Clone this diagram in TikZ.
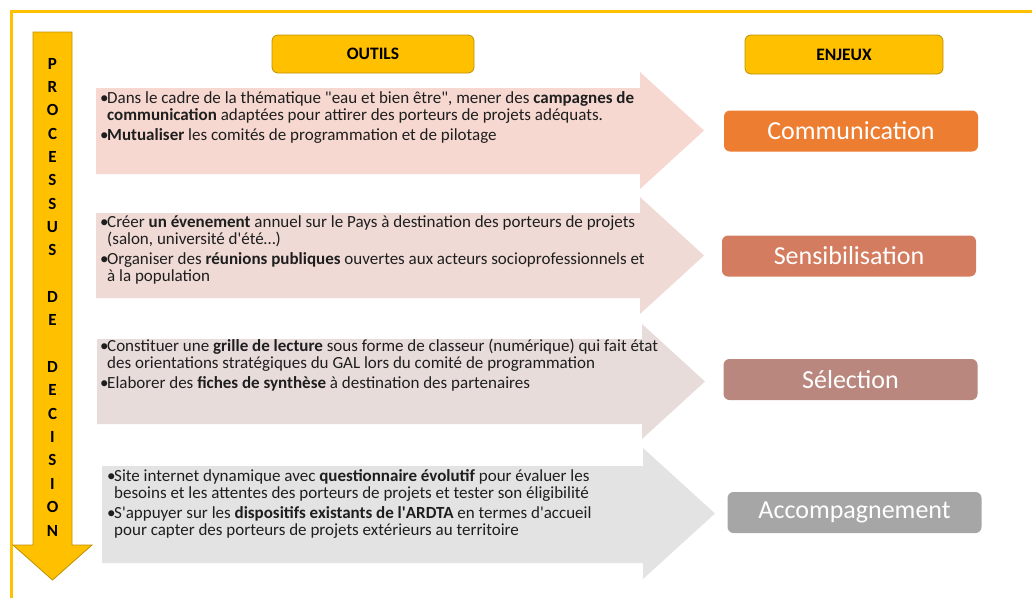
\documentclass[tikz,border=0pt]{standalone}
\usepackage{fontspec}
\setmainfont{Carlito}
\definecolor{gold}{HTML}{FFC000}
\definecolor{golddark}{HTML}{BF9000}
\definecolor{arrA}{HTML}{F6D8D1}
\definecolor{arrB}{HTML}{EFDAD5}
\definecolor{arrC}{HTML}{E8DCDB}
\definecolor{arrD}{HTML}{E3E3E3}
\definecolor{cComm}{HTML}{ED7D31}
\definecolor{cSens}{HTML}{D37C5F}
\definecolor{cSel}{HTML}{BA877F}
\definecolor{cAcc}{HTML}{A6A6A6}
\definecolor{txt}{HTML}{1E1E1E}
\newcommand\itm{\makebox[7pt][l]{•}}
\newcommand\cnt{\hspace*{7pt}}
\newcommand\ap{\textquotesingle}
\tikzset{
  header/.style={draw=golddark, line width=0.8pt, fill=gold, rounded corners=6pt,
    inner sep=0pt, font=\fontsize{17.5}{19}\selectfont\bfseries, text=black},
  enjeu/.style={rounded corners=6pt, inner sep=0pt, text=white,
    font=\fontsize{26}{28}\selectfont, minimum height=41pt, minimum width=254pt},
  outil/.style={anchor=base west, inner sep=0pt, text=txt},
}
\newcommand\outiltext[1]{\parbox[t]{600pt}{\fontsize{17}{17}\selectfont\setlength{\parindent}{0pt}#1}}
\begin{document}
\begin{tikzpicture}[x=1pt,y=-1pt]
\useasboundingbox (0,0) rectangle (1032,598);
% frame
\draw[gold, line width=3pt] (1032,11) -- (11,11) -- (11,598);
% process arrow
\draw[fill=gold, draw=golddark, line width=0.8pt]
  (33,32) -- (72,32) -- (72,545) -- (92,545) -- (52.5,580) -- (13,545) -- (33,545) -- cycle;
\node[anchor=base, inner sep=0pt, font=\fontsize{17}{23.35}\selectfont\bfseries, text=black] (proc) at (52.5,69)
  {\parbox[t]{20pt}{\centering P\\R\\O\\C\\E\\S\\S\\U\\S\\\mbox{}\\D\\E\\\mbox{}\\D\\E\\C\\I\\S\\I\\O\\N}};
% headers
\node[header, minimum width=202pt, minimum height=38pt] (outils) at (373,54) {OUTILS};
\node[header, minimum width=198pt, minimum height=39pt] (enjeux) at (844,54.5) {ENJEUX};
% big arrows
\fill[arrA] (96,88) -- (640,88) -- (640,72) -- (704,130.5) -- (640,189) -- (640,174) -- (96,174) -- cycle;
\fill[arrB] (96,213) -- (640,213) -- (640,197) -- (704,255.5) -- (640,314) -- (640,298) -- (96,298) -- cycle;
\fill[arrC] (97,339) -- (642,339) -- (642,324) -- (705,381.5) -- (642,439) -- (642,424) -- (97,424) -- cycle;
\fill[arrD] (102,466) -- (643,466) -- (643,448) -- (715,513.5) -- (643,579) -- (643,563) -- (102,563) -- cycle;
% texts
\node[outil] (t1) at (100,103) {\outiltext{%
\itm Dans le cadre de la thématique \textquotedbl eau et bien être\textquotedbl, mener des \textbf{campagnes de}\\
\cnt\textbf{communication} adaptées pour attirer des porteurs de projets adéquats.\\[3pt]
\itm\textbf{Mutualiser} les comités de programmation et de pilotage}};
\node[outil] (t2) at (100,227) {\outiltext{%
\itm Créer \textbf{un évenement} annuel sur le Pays à destination des porteurs de projets\\
\cnt(salon, université d\ap été…)\\[3pt]
\itm Organiser des \textbf{réunions publiques} ouvertes aux acteurs socioprofessionnels et\\
\cnt à la population}};
\node[outil] (t3) at (100,351) {\outiltext{%
\itm Constituer une \textbf{grille de lecture} sous forme de classeur (numérique) qui fait état\\
\cnt des orientations stratégiques du GAL lors du comité de programmation\\[3pt]
\itm Elaborer des \textbf{fiches de synthèse} à destination des partenaires}};
\node[outil] (t4) at (107,481) {\outiltext{%
\itm Site internet dynamique avec \textbf{questionnaire évolutif} pour évaluer les\\
\cnt besoins et les attentes des porteurs de projets et tester son éligibilité\\[3pt]
\itm S\ap appuyer sur les \textbf{dispositifs existants de l\ap ARDTA} en termes d\ap accueil\\
\cnt pour capter des porteurs de projets extérieurs au territoire}};
% enjeux
\node[enjeu, fill=cComm] (comm) at (851,131) {Communication};
\node[enjeu, fill=cSens] (sens) at (849,256) {Sensibilisation};
\node[enjeu, fill=cSel] (sel) at (850.5,379.5) {Sélection};
\node[enjeu, fill=cAcc] (acc) at (854.5,512.5) {Accompagnement};
\end{tikzpicture}
\end{document}
